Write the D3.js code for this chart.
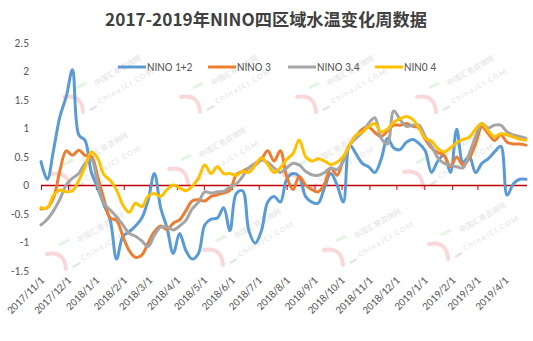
<!DOCTYPE html>
<html>
<head>
<meta charset="utf-8">
<title>NINO</title>
<script src="https://cdn.jsdelivr.net/npm/d3@7/dist/d3.min.js"></script>
<style>
  body { margin: 0; background: #fff; overflow: hidden; }
  text { font-family: Carlito, Lato, "Noto Sans", sans-serif; fill: #595959; }
</style>
</head>
<body>
<div id="chart"></div>
<script>
// weekly data, first week 2017/11/1
var startDate = "2017-11-01";
var seriesNames = ["NINO 1+2", "NINO 3", "NINO 3.4", "NIN0 4"];
var nino12 = [0.41, 0.1, 0.62, 1.2, 1.55, 2.02, 0.88, 0.78, 0.22, -0.05,
  -0.35, -0.62, -1.3, -0.9, -0.82, -0.72, -0.58, -0.27, 0.2, -0.4,
  -0.75, -1.2, -0.85, -1.15, -1.3, -1.2, -0.7, -0.6, -0.58, -0.4,
  -0.8, -0.15, -0.1, -0.8, -1.02, -0.8, -0.3, -0.2, -0.3, 0.1,
  0.2, 0.15, -0.2, -0.3, -0.32, -0.05, 0.2, 0, -0.3, 0.7,
  0.55, 0.38, 0.32, 0.22, 0.45, 0.82, 0.65, 0.62, 0.75, 0.8,
  0.73, 0.6, 0.22, 0.42, 0.52, 0.22, 0.98, 0.4, 0.5, 0.22,
  0.38, 0.46, 0.58, 0.68, -0.18, 0.02, 0.1, 0.1];
var nino3 = [-0.42, -0.4, -0.22, 0.25, 0.6, 0.52, 0.61, 0.52, 0.5, 0.15,
  -0.25, -0.58, -0.62, -0.9, -1.15, -1.27, -1.23, -1.02, -0.82, -0.72,
  -0.78, -0.67, -0.61, -0.45, -0.28, -0.26, -0.28, -0.2, -0.17, -0.14,
  -0.09, 0.18, 0.24, 0.3, 0.35, 0.45, 0.6, 0.42, 0.6, 0.15,
  -0.08, 0.15, 0, -0.08, -0.12, 0.02, 0.3, 0.17, 0.45, 0.7,
  0.85, 0.98, 1.02, 0.92, 0.85, 0.95, 1.05, 1.05, 1.08, 1.03,
  1.0, 0.8, 0.65, 0.57, 0.52, 0.32, 0.49, 0.35, 0.47, 0.72,
  1.02, 0.9, 0.78, 0.88, 0.75, 0.72, 0.72, 0.7];
var nino34 = [-0.7, -0.6, -0.45, -0.25, 0, 0.12, 0.2, 0.38, 0.45, 0.02,
  -0.32, -0.44, -0.56, -0.7, -0.85, -0.9, -0.98, -1.08, -0.88, -0.74,
  -0.74, -0.79, -0.72, -0.62, -0.42, -0.3, -0.12, -0.14, -0.12, -0.11,
  -0.03, 0.02, 0.15, 0.3, 0.38, 0.44, 0.4, 0.3, 0.22, 0.3,
  0.38, 0.35, 0.24, 0.18, 0.17, 0.22, 0.3, 0.27, 0.42, 0.7,
  0.82, 0.92, 1.08, 1.18, 0.82, 0.72, 1.3, 1.15, 1.03, 1.05,
  1.05, 0.85, 0.68, 0.48, 0.38, 0.35, 0.32, 0.3, 0.55, 0.85,
  1.08, 1.0, 1.05, 1.05, 0.93, 0.88, 0.85, 0.82];
var nino4 = [-0.4, -0.4, -0.18, -0.09, -0.12, -0.1, 0.08, 0.32, 0.58, 0.47,
  0.18, 0.08, -0.09, -0.35, -0.48, -0.32, -0.38, -0.2, -0.15, -0.2,
  -0.08, 0, -0.05, -0.1, -0.02, 0.12, 0.35, 0.2, 0.32, 0.2,
  0.2, 0.17, 0.24, 0.22, 0.35, 0.48, 0.36, 0.22, 0.3, 0.45,
  0.55, 0.79, 0.5, 0.42, 0.46, 0.42, 0.36, 0.4, 0.5, 0.7,
  0.87, 0.93, 1.02, 1.08, 0.93, 0.98, 1.1, 1.16, 1.2, 1.15,
  1.0, 0.82, 0.77, 0.64, 0.58, 0.65, 0.74, 0.8, 0.84, 0.98,
  1.08, 0.95, 0.85, 0.9, 0.88, 0.84, 0.8, 0.79];
var yTicks = [-1.5, -1, -0.5, 0, 0.5, 1, 1.5, 2, 2.5];
var colors = ["#5B9BD5", "#ED7D31", "#A5A5A5", "#FFC000"];

var W = 533, H = 341;
var svg = d3.select("#chart").append("svg").attr("width", W).attr("height", H);

var t0 = d3.timeParse("%Y-%m-%d")(startDate);
var dates = nino12.map(function (d, i) { return d3.timeDay.offset(t0, 7 * i); });

var x = d3.scaleTime().domain([t0, dates[dates.length - 1]]).range([41, 526]);
var y = d3.scaleLinear().domain([-1.5, 2.5]).range([270.5, 42.5]);

// watermark
function mark(cx, cy) {
  var g = svg.append("g").attr("transform", "translate(" + cx + "," + cy + ")").attr("opacity", 0.55);
  g.append("path").attr("d", "M-16,-3 Q2,-6 3,12").attr("fill", "none")
    .attr("stroke", "#f6b9bd").attr("stroke-width", 4).attr("stroke-linecap", "round");
  g.append("path").attr("d", "M-4,-12 L6,-17").attr("stroke", "#c9edc9").attr("stroke-width", 3);
  g.append("text").attr("transform", "translate(16,-14) rotate(-30)")
    .style("font-size", "7.5px").style("fill", "#c8c8c8").style("font-family", "'Noto Sans CJK SC'")
    .text("中国汇易咨询网");
  g.append("path").attr("d", "M10,10 L17,6").attr("stroke", "#d0d0d0").attr("stroke-width", 2.5);
  g.append("text").attr("transform", "translate(20,4) rotate(-30)")
    .style("font-size", "8px").style("fill", "#cccccc").style("letter-spacing", "1.5px")
    .text("ChinaJCI.COM");
}
[[80, 100], [197, 100], [313, 100], [433, 100],
 [67, 177], [185, 172], [300, 178], [420, 175],
 [63, 257], [220, 253], [340, 253], [445, 247]].forEach(function (p) { mark(p[0], p[1]); });

// title
var title = svg.append("text").attr("x", 266).attr("y", 26).attr("text-anchor", "middle")
  .style("font-family", "'Noto Sans CJK SC'").style("font-weight", "bold")
  .style("font-size", "17px").style("fill", "#404040")
  .text("2017-2019年NINO四区域水温变化周数据");
var tw = title.node().getComputedTextLength();
title.style("font-size", (17 * 322 / tw) + "px");

// y axis labels
svg.append("g").selectAll("text").data(yTicks).enter().append("text")
  .attr("x", 29).attr("y", function (d) { return y(d) + 4; })
  .attr("text-anchor", "end").style("font-size", "11.5px")
  .text(function (d) { return d; });

// x axis on zero line
var months = d3.timeMonth.range(t0, d3.timeDay.offset(dates[dates.length - 1], 1));
var xAxis = d3.axisBottom(x).tickValues(months).tickSize(5).tickFormat("");
var ax = svg.append("g").attr("transform", "translate(0," + y(0) + ")").call(xAxis);
ax.select(".domain").attr("stroke", "#C00000").attr("stroke-width", 1.3)
  .attr("d", "M41,0.5H527");
ax.selectAll(".tick line").attr("stroke", "#C00000").attr("stroke-width", 1);

var fmt = d3.timeFormat("%Y/%-m/%-d");
svg.append("g").selectAll("text").data(months).enter().append("text")
  .attr("transform", function (d) { return "translate(" + (x(d) + 4) + ",281) rotate(-45)"; })
  .attr("text-anchor", "end").style("font-size", "11px")
  .text(fmt);

// lines
var allSeries = [nino12, nino3, nino34, nino4];
var line = d3.line().curve(d3.curveCatmullRom.alpha(0.5))
  .x(function (d, i) { return x(dates[i]); })
  .y(function (d) { return y(d); });
svg.append("g").selectAll("path").data(allSeries).enter().append("path")
  .attr("d", line).attr("fill", "none")
  .attr("stroke", function (d, i) { return colors[i]; })
  .attr("stroke-width", 3).attr("stroke-linejoin", "round").attr("stroke-linecap", "round");

// legend
var legX = [118, 208, 288, 375];
var lg = svg.append("g").selectAll("g").data(seriesNames).enter().append("g")
  .attr("transform", function (d, i) { return "translate(" + legX[i] + ",67)"; });
lg.append("line").attr("x1", 0).attr("x2", 28).attr("y1", 0).attr("y2", 0)
  .attr("stroke", function (d, i) { return colors[i]; }).attr("stroke-width", 3);
lg.append("text").attr("x", 29).attr("y", 4).style("font-size", "11.5px").text(function (d) { return d; });
</script>
</body>
</html>
